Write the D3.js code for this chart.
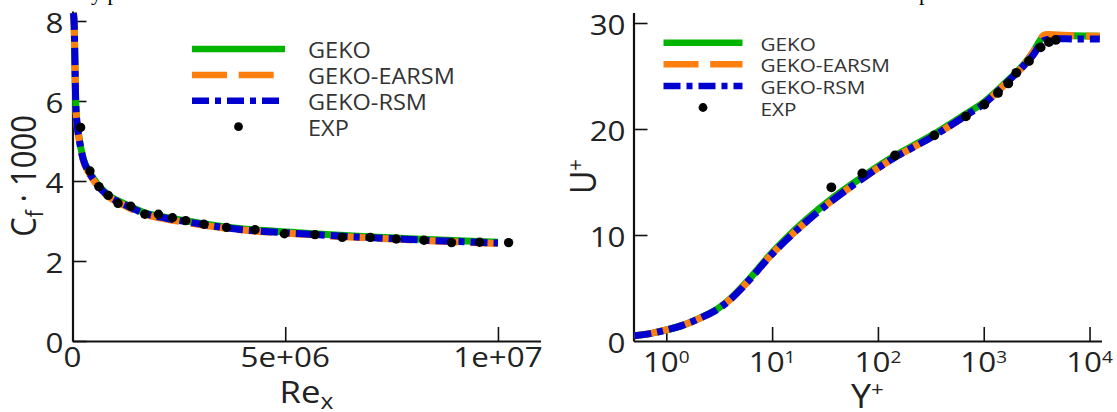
<!DOCTYPE html>
<html><head><meta charset="utf-8">
<script src="https://cdn.jsdelivr.net/npm/d3@7"></script>
<style>
html,body{margin:0;padding:0;background:#fff;}
svg{display:block;}
text{font-family:"Open Sans",sans-serif;}
</style></head>
<body>
<svg id="chart" width="1117" height="412"></svg>
<script>
// ---------- Left panel data: Cf*1000 vs Re_x ----------
const reLine   = [0.02e6,0.04e6,0.06e6,0.075e6,0.1e6,0.15e6,0.25e6,0.37e6,0.5e6,0.6e6,0.88e6,1.2e6,1.66e6,2.2e6,2.8e6,3.6e6,4.5e6,5.4e6,6.5e6,7.5e6,8.5e6,10.0e6];
const cfGeko   = [8.2,7.9,6.8,6.0,5.52,5.12,4.57,4.27,4.05,3.9,3.62,3.44,3.22,3.09,2.98,2.85,2.76,2.70,2.63,2.58,2.53,2.47];
const cfEarsm  = [8.2,7.9,6.8,6.0,5.48,5.08,4.53,4.23,4.01,3.86,3.58,3.40,3.18,3.05,2.94,2.82,2.73,2.67,2.60,2.55,2.50,2.44];
const cfRsm    = [8.2,7.9,6.8,6.0,5.5,5.1,4.55,4.25,4.03,3.88,3.6,3.42,3.2,3.07,2.96,2.83,2.74,2.68,2.61,2.56,2.51,2.45];
const expRe    = [0.19e6,0.41e6,0.62e6,0.84e6,1.07e6,1.37e6,1.70e6,2.02e6,2.35e6,2.66e6,3.09e6,3.62e6,4.29e6,4.98e6,5.70e6,6.34e6,7.0e6,7.61e6,8.26e6,8.91e6,9.57e6,10.25e6];
const expCf    = [5.34,4.25,3.86,3.64,3.44,3.37,3.17,3.17,3.08,3.01,2.92,2.84,2.78,2.68,2.66,2.59,2.59,2.55,2.52,2.46,2.47,2.46];
const leftYTicks = [0,2,4,6,8];
const leftXTicks = [0,5e6,1e7];
const leftXLabels = ["0","5e+06","1e+07"];

// ---------- Right panel data: U+ vs Y+ ----------
const ypLine   = [0.5,0.7,1,1.4,2.07,3,3.97,5.7,9.47,13.6,21,37.6,72,138,330,685,1010,1620,2350,2940,3380,3700,4500,7000,12500];
const uGeko    = [0.5,0.7,1.04,1.45,2.16,2.98,3.92,5.52,8.08,9.7,11.45,13.5,15.5,17.35,19.45,21.45,22.55,24.4,26.0,27.3,28.3,28.8,28.85,28.8,28.75];
const uEarsm   = [0.5,0.7,1.04,1.45,2.14,2.95,3.87,5.44,7.95,9.53,11.25,13.3,15.35,17.2,19.3,21.3,22.4,24.3,25.9,27.3,28.3,28.85,28.9,28.8,28.75];
const uRsm     = [0.5,0.7,1.04,1.45,2.14,2.95,3.87,5.44,7.95,9.53,11.25,13.3,15.35,17.2,19.3,21.3,22.4,24.3,25.9,27.0,27.9,28.35,28.5,28.5,28.5];
const expYp    = [36.3,71.2,145,341,679,1013,1363,1707,2032,2674,3451,4130,4785];
const expU     = [14.5,15.8,17.5,19.4,21.2,22.3,23.4,24.3,25.3,26.4,27.7,28.2,28.4];
const rightYTicks = [0,10,20,30];
const rightXTicks = [1,10,100,1000,10000];
const rightXExp   = ["0","1","2","3","4"];

const seriesNames = ["GEKO","GEKO-EARSM","GEKO-RSM","EXP"];
const seriesColors = ["#00b400","#ff7f0e","#0000d0","#000000"];
const seriesDash = [null,"35,11.7","17,6,6,6"];

const svg = d3.select("#chart");
const LW = 6.5;
const SX = 1.12; // horizontal stretch of the glyphs in the reference

// stray clipped caption text from the source document
svg.append("text").attr("transform","translate(91,-0.5)").style("font-family","Liberation Serif").attr("font-size",22).text("y p");
svg.append("text").attr("transform","translate(919,-0.5)").style("font-family","Liberation Serif").attr("font-size",22).text("p");

function drawAxes(g, x, y, opts){
  const yMajor = d3.axisLeft(y).tickValues(opts.yMajor).tickSizeInner(-14).tickSizeOuter(0).tickFormat("");
  const yMinor = d3.axisLeft(y).tickValues(opts.yMinor).tickSizeInner(8).tickSizeOuter(0).tickFormat("");
  const xMajor = d3.axisBottom(x).tickValues(opts.xMajor).tickSizeInner(-14).tickSizeOuter(0).tickFormat("");
  const xMinor = d3.axisBottom(x).tickValues(opts.xMinor).tickSizeInner(6).tickSizeOuter(0).tickFormat("");
  const gy = g.append("g").attr("transform",`translate(${x.range()[0]},0)`);
  gy.call(yMinor); gy.call(yMajor);
  const gx = g.append("g").attr("transform",`translate(0,${y.range()[0]})`);
  gx.call(xMinor); gx.call(xMajor);
  g.selectAll(".domain").attr("stroke","#111").attr("stroke-width",2.2);
  g.selectAll(".tick line").attr("stroke","#111").attr("stroke-width",1.6);
}

function drawLegend(g, x0, y0, dy, len, fs, gap){
  seriesNames.forEach((n,i)=>{
    const yy = y0 + i*dy;
    if(i<3){
      const l = g.append("line").attr("x1",x0).attr("x2",x0+len).attr("y1",yy).attr("y2",yy)
        .attr("stroke",seriesColors[i]).attr("stroke-width",LW);
      if(seriesDash[i]) l.attr("stroke-dasharray",seriesDash[i]);
    } else {
      g.append("circle").attr("cx",x0+len/2).attr("cy",yy).attr("r",4.4).attr("fill","#000");
    }
    g.append("text").attr("transform",`translate(${x0+len+gap},${yy+1}) scale(${SX},1)`).attr("dominant-baseline","central")
      .attr("font-size",fs).attr("fill","#333").text(n);
  });
}

// ---------- LEFT ----------
const xL = d3.scaleLinear().domain([0,11e6]).range([72.5,540.5]);
const yL = d3.scaleLinear().domain([0,8.25]).range([341,11]);
const gL = svg.append("g");
drawAxes(gL, xL, yL, {
  yMajor:leftYTicks, yMinor:d3.range(0.5,8.01,0.5).filter(v=>v%2!==0),
  xMajor:leftXTicks.filter(v=>v>0), xMinor:d3.range(0.5e6,10.6e6,0.5e6).filter(v=>Math.round(v/1e5)%50!==0)
});
const lineL = arr => d3.line().x((d,i)=>xL(reLine[i])).y(d=>yL(d)).curve(d3.curveMonotoneX)(arr);
[cfGeko,cfEarsm,cfRsm].forEach((arr,i)=>{
  const p = gL.append("path").attr("d",lineL(arr)).attr("fill","none").attr("stroke",seriesColors[i]).attr("stroke-width",7);
  if(seriesDash[i]) p.attr("stroke-dasharray",seriesDash[i]);
});
gL.selectAll("circle.exp").data(expRe).enter().append("circle").attr("class","exp")
  .attr("cx",d=>xL(d)).attr("cy",(d,i)=>yL(expCf[i])).attr("r",4.7).attr("fill","#000");
gL.selectAll("text.yt").data(leftYTicks).enter().append("text").attr("class","yt")
  .attr("transform",d=>`translate(${xL.range()[0]-9},${yL(d)+1}) scale(${SX},1)`)
  .attr("text-anchor","end").attr("dominant-baseline","central")
  .attr("font-size",28).attr("fill","#222").text(d=>d);
gL.selectAll("text.xt").data(leftXTicks).enter().append("text").attr("class","xt")
  .attr("transform",d=>`translate(${xL(d)},367) scale(${SX},1)`).attr("text-anchor","middle")
  .attr("font-size",28).attr("fill","#222").text((d,i)=>leftXLabels[i]);
const tRe = gL.append("text").attr("transform",`translate(${(xL.range()[0]+xL.range()[1])/2},403) scale(${SX},1)`)
  .attr("text-anchor","middle").attr("font-size",31).attr("fill","#222");
tRe.append("tspan").text("Re");
tRe.append("tspan").attr("font-size",22).attr("dy",6).text("x");
const tCf = gL.append("text").attr("transform",`translate(36,${(yL.range()[0]+yL.range()[1])/2}) scale(${SX},1) rotate(-90)`)
  .attr("text-anchor","middle").attr("font-size",31).attr("fill","#222");
tCf.append("tspan").text("C");
tCf.append("tspan").attr("font-size",21).attr("dy",6).text("f");
tCf.append("tspan").attr("dy",-6).text(" · 1000");
drawLegend(gL, 192, 49, 25.9, 93, 21, 23);

// ---------- RIGHT ----------
const xR = d3.scaleLog().domain([Math.pow(10,-0.31),Math.pow(10,4.113)]).range([633.5,1101.5]);
const yR = d3.scaleLinear().domain([0,31]).range([341,12.4]);
const gR = svg.append("g");
drawAxes(gR, xR, yR, {
  yMajor:rightYTicks.filter(v=>v>0), yMinor:d3.range(2,30,2).filter(v=>v%10!==0),
  xMajor:rightXTicks, xMinor:[]
});
const lineR = arr => d3.line().x((d,i)=>xR(ypLine[i])).y(d=>yR(d)).curve(d3.curveCatmullRom.alpha(0.5))(arr);
[uGeko,uEarsm,uRsm].forEach((arr,i)=>{
  const p = gR.append("path").attr("d",lineR(arr)).attr("fill","none").attr("stroke",seriesColors[i]).attr("stroke-width",7);
  if(seriesDash[i]) p.attr("stroke-dasharray",seriesDash[i]);
});
gR.selectAll("circle.exp").data(expYp).enter().append("circle").attr("class","exp")
  .attr("cx",d=>xR(d)).attr("cy",(d,i)=>yR(expU[i])).attr("r",4.9).attr("fill","#000");
gR.selectAll("text.yt").data(rightYTicks).enter().append("text").attr("class","yt")
  .attr("transform",d=>`translate(${xR.range()[0]-8},${yR(d)+1}) scale(${SX},1)`)
  .attr("text-anchor","end").attr("dominant-baseline","central")
  .attr("font-size",28).attr("fill","#222").text(d=>d);
const xtR = gR.selectAll("text.xt").data(rightXTicks).enter().append("text").attr("class","xt")
  .attr("transform",d=>`translate(${xR(d)},372) scale(${SX},1)`).attr("text-anchor","middle").attr("font-size",28).attr("fill","#222");
xtR.append("tspan").text("10");
xtR.append("tspan").attr("font-size",17).attr("dy",-9).text((d,i)=>rightXExp[i]);
const tY = gR.append("text").attr("transform",`translate(${(xR.range()[0]+xR.range()[1])/2},408) scale(${SX},1)`)
  .attr("text-anchor","middle").attr("font-size",32).attr("fill","#222");
tY.append("tspan").text("Y");
tY.append("tspan").attr("font-size",20).attr("dy",-12).text("+");
const tU = gR.append("text").attr("transform",`translate(596,${(yR.range()[0]+yR.range()[1])/2}) scale(${SX},1) rotate(-90)`)
  .attr("text-anchor","middle").attr("font-size",32).attr("fill","#222");
tU.append("tspan").text("U");
tU.append("tspan").attr("font-size",20).attr("dy",-12).text("+");
drawLegend(gR, 663.5, 42.7, 21.6, 79, 18.5, 18);
</script>
</body></html>
